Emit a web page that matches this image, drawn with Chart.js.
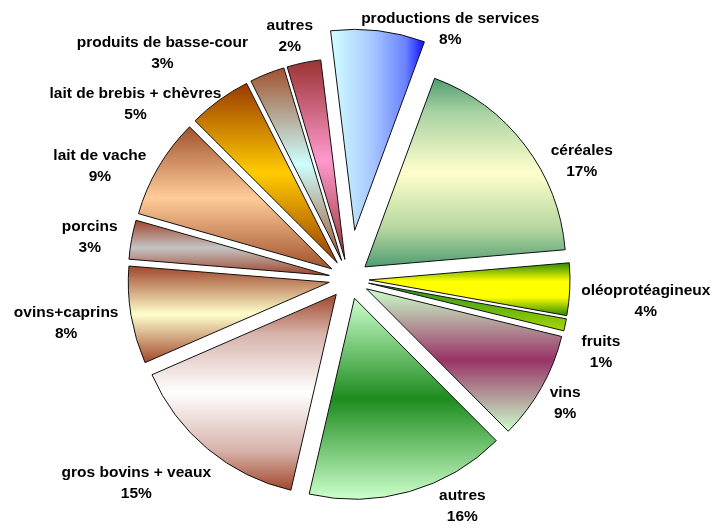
<!DOCTYPE html>
<html lang="fr">
<head>
    <meta charset="UTF-8">
    <title>Répartition de la production agricole</title>
    <script src="https://cdn.jsdelivr.net/npm/chart.js"></script>
    <style>
        html, body {
            margin: 0;
            padding: 0;
            background-color: #ffffff;
        }
        .chart-box {
            position: relative;
            width: 717px;
            height: 529px;
        }
    </style>
</head>
<body>
    <div class="chart-box">
        <canvas id="pieChart"></canvas>
    </div>

    <script>
        // Data (clockwise, starting with the exploded top slice)
        const categories = [
            'productions de services', 'céréales', 'oléoprotéagineux', 'fruits', 'vins', 'autres',
            'gros bovins + veaux', 'ovins+caprins', 'porcins', 'lait de vache',
            'lait de brebis + chèvres', 'produits de basse-cour', 'autres'
        ];
        // slice sizes as measured on the drawing
        const shares = [7.55, 18.0, 4.2, 0.97, 8.72, 16.08, 14.83, 7.83, 3.14, 8.06, 5.06, 2.81, 2.72];
        // percentages as printed on the chart
        const percentLabels = ['8%', '17%', '4%', '1%', '9%', '16%', '15%', '8%', '3%', '9%', '5%', '3%', '2%'];

        // Styling: gradient stops per slice (top -> bottom, the first one left -> right)
        const sliceGradients = [
            [[0, '#d2ffff'], [0.45, '#a6c6ff'], [0.8, '#6a82ff'], [1, '#1010ff']],
            [[0, '#4f9d72'], [0.18, '#a9d2a2'], [0.5, '#ffffcc'], [0.8, '#b4d69e'], [1, '#4f9d72']],
            [[0, '#2d8a00'], [0.35, '#ffff00'], [0.65, '#ffff00'], [1, '#2d8a00']],
            [[0, '#1f8f1f'], [1, '#a8d800']],
            [[0, '#ccffcc'], [0.5, '#993366'], [1, '#ccffcc']],
            [[0, '#ccffcc'], [0.5, '#1e8c1e'], [1, '#ccffcc']],
            [[0, '#a0472b'], [0.2, '#d7b2aa'], [0.5, '#ffffff'], [0.8, '#d7b2aa'], [1, '#a0472b']],
            [[0, '#a0472b'], [0.5, '#ffffcc'], [1, '#a0472b']],
            [[0, '#a0442a'], [0.5, '#c4c4c4'], [1, '#a0442a']],
            [[0, '#a0522d'], [0.5, '#ffcc99'], [1, '#a0522d']],
            [[0, '#9a3a00'], [0.5, '#ffcc00'], [1, '#9a3a00']],
            [[0, '#a0522d'], [0.5, '#ccffff'], [1, '#a0522d']],
            [[0, '#993333'], [0.5, '#ff99cc'], [1, '#993333']]
        ];
        const explode = [49, 20, 20, 20, 20, 20, 20, 20, 20, 20, 20, 20, 20];
        const labelNudge = [
            [71, 7], [49, 21], [66, 10], [26, 24], [15, 10], [50, 4], [-65, 25],
            [-55, 5], [-32, -2], [-50, 3], [-78, 11], [-101, -12], [-12, -18]
        ];
        const START_DEG = -6.9;
        const RADIUS = 201;

        // bounding box of one exploded slice, used to stretch its gradient
        function sliceBox(chart, i) {
            const area = chart.chartArea;
            const total = shares.reduce((s, v) => s + v, 0);
            let a0 = (START_DEG - 90) * Math.PI / 180;
            for (let k = 0; k < i; k++) a0 += shares[k] / total * 2 * Math.PI;
            const a1 = a0 + shares[i] / total * 2 * Math.PI;
            const mid = (a0 + a1) / 2;
            const cx = (area.left + area.right) / 2 + Math.cos(mid) * explode[i];
            const cy = (area.top + area.bottom) / 2 + Math.sin(mid) * explode[i];
            const xs = [cx], ys = [cy];
            const angles = [a0, a1];
            for (let q = Math.ceil(a0 / (Math.PI / 2)); q * Math.PI / 2 <= a1; q++) angles.push(q * Math.PI / 2);
            angles.forEach(a => {
                xs.push(cx + Math.cos(a) * RADIUS);
                ys.push(cy + Math.sin(a) * RADIUS);
            });
            return { x0: Math.min(...xs), x1: Math.max(...xs), y0: Math.min(...ys), y1: Math.max(...ys) };
        }

        function sliceFill(context) {
            const chart = context.chart;
            if (!chart.chartArea || context.dataIndex === undefined) return '#cccccc';
            const i = context.dataIndex;
            const b = sliceBox(chart, i);
            const g = i === 0
                ? chart.ctx.createLinearGradient(b.x0, 0, b.x1, 0)
                : chart.ctx.createLinearGradient(0, b.y0, 0, b.y1);
            sliceGradients[i].forEach(s => g.addColorStop(s[0], s[1]));
            return g;
        }

        // push every slice out along its bisector (Excel style exploded pie)
        const explodePlugin = {
            id: 'explodeSlices',
            afterDatasetUpdate(chart, args) {
                const meta = chart.getDatasetMeta(args.index);
                meta.data.forEach((arc, i) => {
                    const mid = (arc.startAngle + arc.endAngle) / 2;
                    arc.x += Math.cos(mid) * explode[i];
                    arc.y += Math.sin(mid) * explode[i];
                });
            }
        };

        const labelPlugin = {
            id: 'sliceLabels',
            afterDatasetsDraw(chart) {
                const ctx = chart.ctx;
                const meta = chart.getDatasetMeta(0);
                ctx.save();
                ctx.font = 'bold 15.5px "Liberation Sans", Arial, sans-serif';
                ctx.fillStyle = '#000000';
                ctx.textAlign = 'center';
                ctx.textBaseline = 'alphabetic';
                meta.data.forEach((arc, i) => {
                    const mid = (arc.startAngle + arc.endAngle) / 2;
                    const d = arc.outerRadius + 10;
                    const x = arc.x + Math.cos(mid) * d + labelNudge[i][0];
                    const y = arc.y + Math.sin(mid) * d + labelNudge[i][1];
                    ctx.fillText(categories[i], x, y - 5);
                    ctx.fillText(percentLabels[i], x, y + 16);
                });
                ctx.restore();
            }
        };

        new Chart(document.getElementById('pieChart'), {
            type: 'pie',
            data: {
                labels: categories,
                datasets: [{
                    data: shares,
                    backgroundColor: sliceFill,
                    borderColor: '#111111',
                    borderWidth: 1,
                    hoverOffset: 0
                }]
            },
            options: {
                responsive: true,
                maintainAspectRatio: false,
                animation: false,
                events: [],
                rotation: START_DEG,
                radius: RADIUS,
                layout: { padding: { left: 0, right: 19, top: 29, bottom: 0 } },
                plugins: {
                    legend: { display: false },
                    tooltip: { enabled: false }
                }
            },
            plugins: [explodePlugin, labelPlugin]
        });
    </script>
</body>
</html>
